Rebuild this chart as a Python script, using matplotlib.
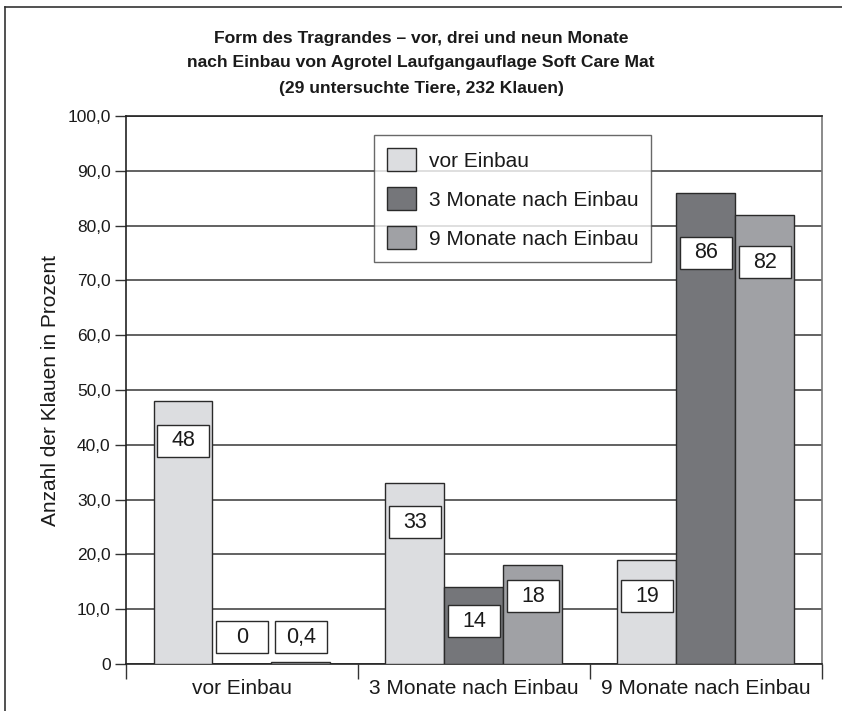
import matplotlib
matplotlib.use("Agg")
import matplotlib.pyplot as plt
import numpy as np
from matplotlib.patches import Rectangle
from matplotlib.lines import Line2D

plt.rcParams['font.family'] = ['Liberation Sans', 'DejaVu Sans']

categories = ["vor Einbau", "3 Monate nach Einbau", "9 Monate nach Einbau"]
series_names = ["vor Einbau", "3 Monate nach Einbau", "9 Monate nach Einbau"]
vor_einbau = [48, 33, 19]
monate_3 = [0, 14, 86]
monate_9 = [0.4, 18, 82]
value_labels = [["48", "33", "19"], ["0", "14", "86"], ["0,4", "18", "82"]]
# vertical centre of the value boxes (data units, as placed in the original)
label_centres = [[40.7, 25.9, 12.4], [4.9, 7.8, 75.0], [4.9, 12.4, 73.3]]
yticks = [0, 10, 20, 30, 40, 50, 60, 70, 80, 90, 100]
ytick_labels = ["0", "10,0", "20,0", "30,0", "40,0", "50,0", "60,0", "70,0", "80,0", "90,0", "100,0"]
title_lines = ["Form des Tragrandes – vor, drei und neun Monate",
               "nach Einbau von Agrotel Laufgangauflage Soft Care Mat",
               "(29 untersuchte Tiere, 232 Klauen)"]

colors = ["#dcdde0", "#75767a", "#a0a1a5"]

W, H = 842, 711
fig = plt.figure(figsize=(W / 100, H / 100), dpi=100)
ax = fig.add_axes([126 / W, 1 - 664 / H, (822 - 126) / W, (664 - 116) / H])

series = [vor_einbau, monate_3, monate_9]
x = np.arange(len(categories))
bw = 59 / 232
for i, vals in enumerate(series):
    pos = x + (i - 1) * bw
    ax.bar(pos, vals, width=bw, color=colors[i], edgecolor="#2a2a2a",
           linewidth=1.0, zorder=3, label=series_names[i])
    for j in range(len(categories)):
        bh = 32 / 5.48
        bwid = bw * 0.89
        ax.add_patch(Rectangle((pos[j] - bwid / 2, label_centres[i][j] - bh / 2), bwid, bh,
                               facecolor="white", edgecolor="#2a2a2a", linewidth=1.0, zorder=4))
        ax.text(pos[j], label_centres[i][j], value_labels[i][j], ha="center", va="center",
                fontsize=15.5, color="#1a1a1a", zorder=5)

ax.set_xlim(-0.5, 2.5)
ax.set_ylim(0, 100)
ax.set_yticks(yticks)
ax.set_yticklabels(ytick_labels, fontsize=12.5, color="#1a1a1a")
ax.yaxis.grid(True, color="#555555", linewidth=1.3, zorder=0)
ax.set_axisbelow(True)
ax.tick_params(axis="y", length=8, width=1.0, color="#333333", pad=3)
ax.set_xticks(x)
ax.set_xticklabels(categories, fontsize=15, color="#1a1a1a")
ax.tick_params(axis="x", length=0, pad=11)
# category separator ticks
ax.set_xticks([-0.5, 0.5, 1.5, 2.5], minor=True)
ax.tick_params(axis="x", which="minor", length=11, width=1.0, color="#333333")

for s in ["left", "bottom", "top"]:
    ax.spines[s].set_color("#222222")
    ax.spines[s].set_linewidth(1.2)
ax.spines["right"].set_color("#777777")
ax.spines["right"].set_linewidth(1.2)

ax.set_ylabel("Anzahl der Klauen in Prozent", fontsize=15, color="#1a1a1a")
ax.yaxis.set_label_coords(-66 / (822 - 126), 0.5)

for k, line in enumerate(title_lines):
    fig.text(421 / W, 1 - (38 + 25 * k) / H, line, ha="center", va="center",
             fontsize=12.6, fontweight="bold", color="#1a1a1a")

leg = ax.legend(loc="upper left", bbox_to_anchor=(374 / W, 1 - 135 / H),
                bbox_transform=fig.transFigure, fontsize=15, frameon=True,
                fancybox=False, edgecolor="#444444", handlelength=1.4,
                handleheight=1.35, labelspacing=0.75, borderpad=0.62,
                handletextpad=0.6, borderaxespad=0)
leg.get_frame().set_linewidth(1.0)
leg.set_zorder(6)
for t in leg.get_texts():
    t.set_color("#1a1a1a")

# outer frame (top and left lines)
fig.add_artist(Line2D([5 / W, 1.0], [1 - 7 / H, 1 - 7 / H], transform=fig.transFigure,
                      color="#333333", linewidth=1.2))
fig.add_artist(Line2D([5 / W, 5 / W], [0, 1 - 7 / H], transform=fig.transFigure,
                      color="#333333", linewidth=1.2))

fig.savefig("out.png", dpi=100)
